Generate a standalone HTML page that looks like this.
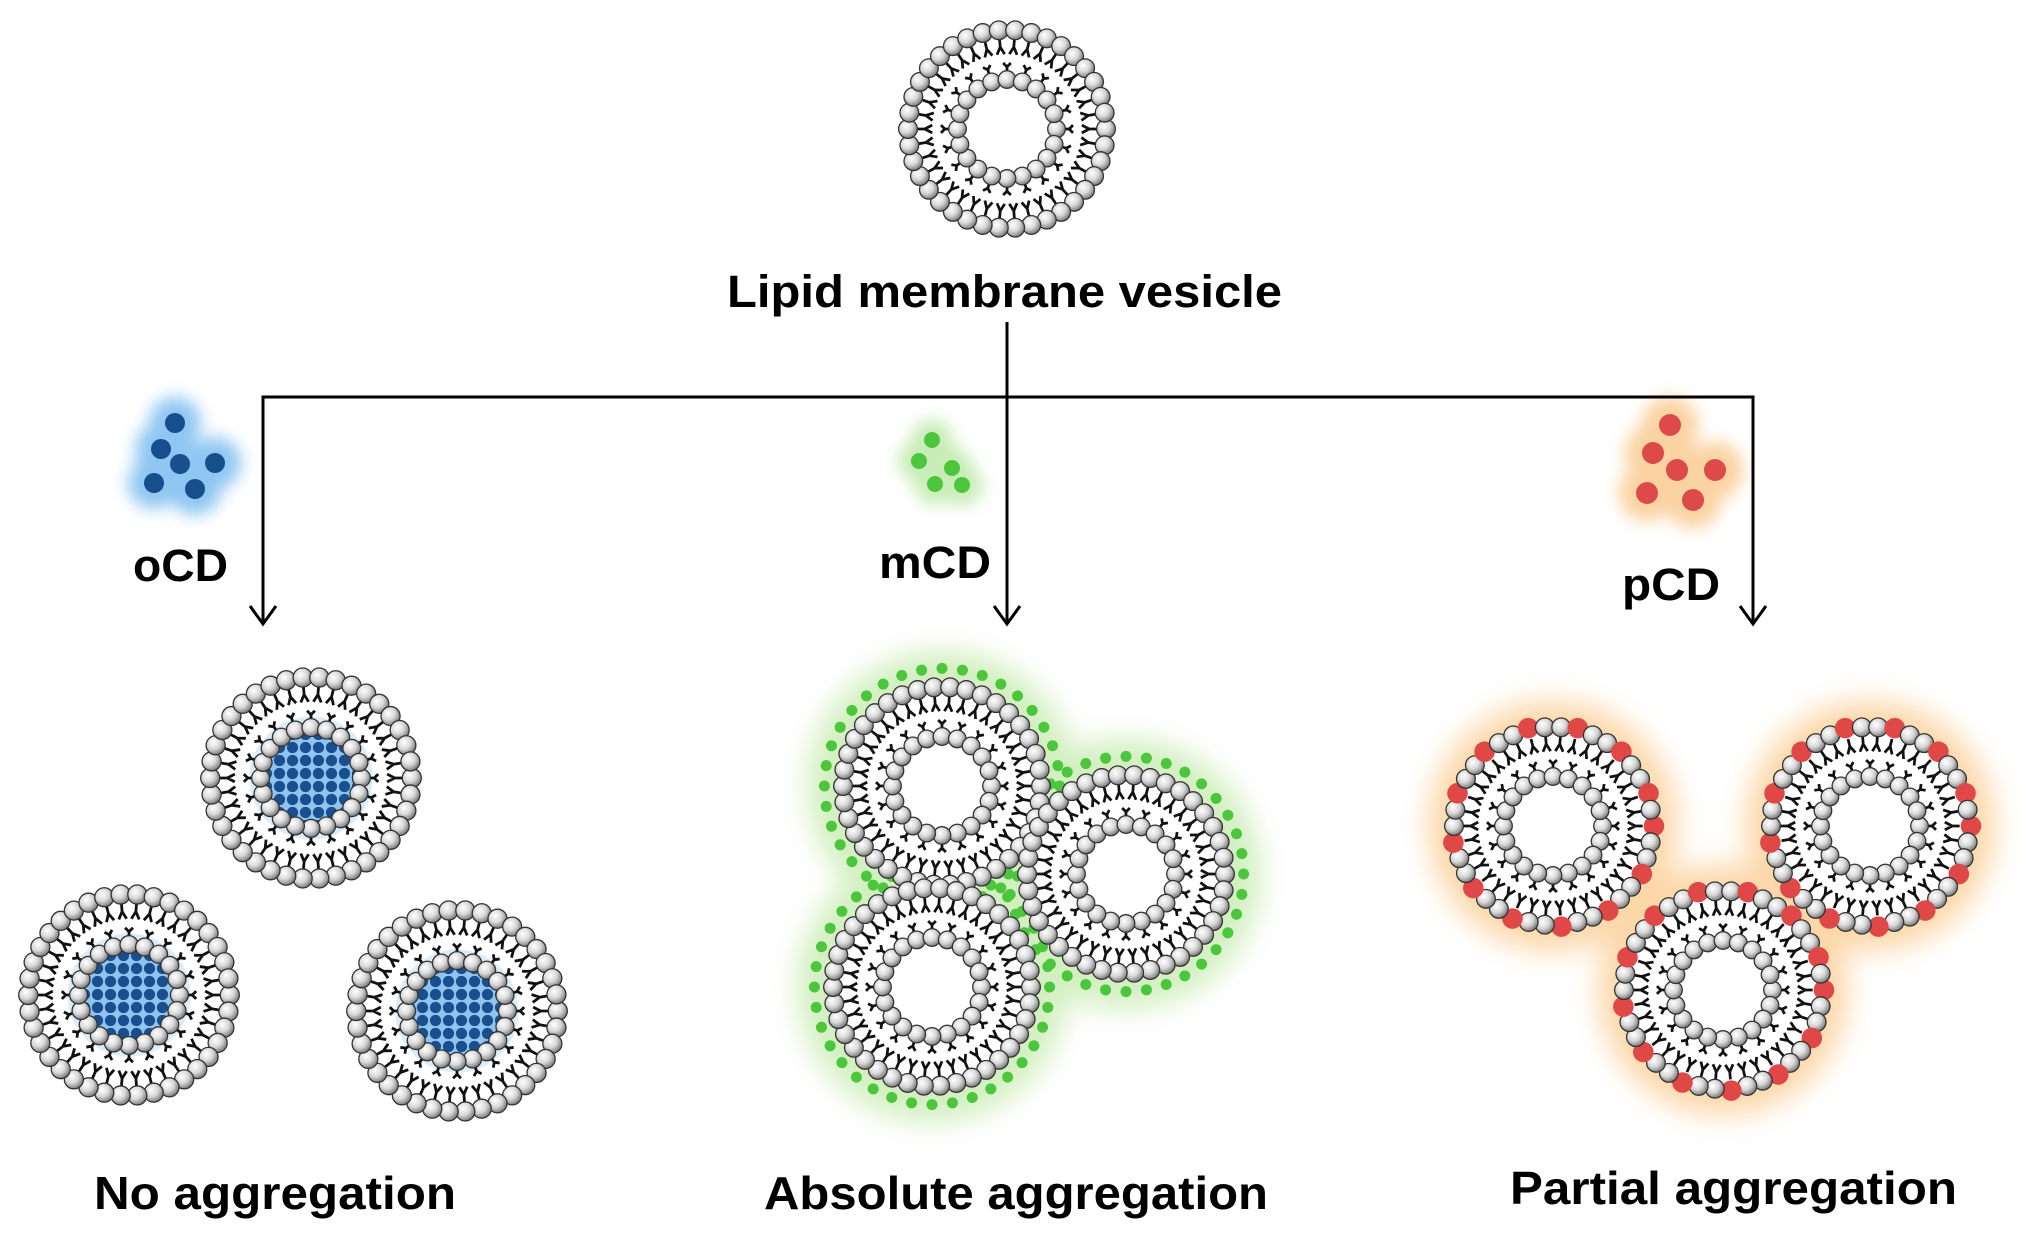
<!DOCTYPE html>
<html><head><meta charset="utf-8">
<style>
html,body{margin:0;padding:0;background:#fff;}
svg{display:block;}
text{font-family:"Liberation Sans",sans-serif;font-weight:bold;fill:#000;}
</style></head>
<body>
<svg id="s" width="2024" height="1241" viewBox="0 0 2024 1241" xmlns="http://www.w3.org/2000/svg">
<defs>
<radialGradient id="hg" cx="0.38" cy="0.35" r="0.7">
<stop offset="0" stop-color="#ffffff"/><stop offset="0.5" stop-color="#d8d8d8"/><stop offset="1" stop-color="#707070"/>
</radialGradient>
<filter id="blur" x="-50%" y="-50%" width="200%" height="200%"><feGaussianBlur stdDeviation="14"/></filter>
<filter id="blur2" x="-50%" y="-50%" width="200%" height="200%"><feGaussianBlur stdDeviation="8"/></filter>
<pattern id="bp" width="13" height="13" patternUnits="userSpaceOnUse">
<rect width="13" height="13" fill="#8fc4ee"/><circle cx="6.5" cy="6.5" r="5.6" fill="#1a4f8f"/>
</pattern>
</defs>
<g id="glow"></g>
<g id="main"></g>
<g stroke="#000" stroke-width="3" fill="none">
<line x1="1007" y1="322" x2="1007" y2="622"/>
<polyline points="263,624 263,397 1753,397 1753,624"/>
<polyline points="250,606 263,624 276,606"/>
<polyline points="994,606 1007,624 1020,606"/>
<polyline points="1740,606 1753,624 1766,606"/>
</g>
<text x="727" y="307" font-size="45" textLength="555" lengthAdjust="spacingAndGlyphs">Lipid membrane vesicle</text>
<text x="133" y="581" font-size="45" textLength="95" lengthAdjust="spacingAndGlyphs">oCD</text>
<text x="879" y="578" font-size="45" textLength="112" lengthAdjust="spacingAndGlyphs">mCD</text>
<text x="1622" y="600" font-size="45" textLength="98" lengthAdjust="spacingAndGlyphs">pCD</text>
<text x="94" y="1209" font-size="46" textLength="362" lengthAdjust="spacingAndGlyphs">No aggregation</text>
<text x="764" y="1209" font-size="46" textLength="504" lengthAdjust="spacingAndGlyphs">Absolute aggregation</text>
<text x="1510" y="1204" font-size="46" textLength="447" lengthAdjust="spacingAndGlyphs">Partial aggregation</text>
</svg>
<script>
var NS="http://www.w3.org/2000/svg";
var main=document.getElementById('main'), glow=document.getElementById('glow');
function el(p,t,a){var e=document.createElementNS(NS,t);for(var k in a)e.setAttribute(k,a[k]);p.appendChild(e);return e;}
function tail(cx,cy,ang,r1,r2,w){
  var c=Math.cos(ang),s=Math.sin(ang);
  var rm=r1+(r2-r1)*0.5;
  var px=-s,py=c;
  var d="M"+(cx+c*r1)+","+(cy+s*r1)+"L"+(cx+c*rm)+","+(cy+s*rm);
  d+="M"+(cx+c*rm)+","+(cy+s*rm)+"L"+(cx+c*r2+px*w)+","+(cy+s*r2+py*w);
  d+="M"+(cx+c*rm)+","+(cy+s*rm)+"L"+(cx+c*r2-px*w)+","+(cy+s*r2-py*w);
  return d;
}
function vesicle(cx,cy,R,o){
  o=o||{};
  var g=el(main,'g',{});
  el(g,'circle',{cx:cx,cy:cy,r:R*0.86,fill:'#fff'});
  if(o.core){el(g,'circle',{cx:cx,cy:cy,r:R*0.55,fill:'#dcedfa'});el(g,'circle',{cx:cx,cy:cy,r:R*0.4,fill:'url(#bp)'});}
  var No=38,Ni=20,ro=R*0.9,hr=R*0.085,ri=R*0.45,hi=R*0.08;
  var d="";
  for(var i=0;i<No;i++){var a=i/No*2*Math.PI;d+=tail(cx,cy,a,ro-hr,R*0.68,R*0.035);}
  for(var i=0;i<Ni;i++){var a=i/Ni*2*Math.PI;d+=tail(cx,cy,a,ri+hi,R*0.6,R*0.035);}
  el(g,'path',{d:d,stroke:'#111','stroke-width':Math.max(2,R*0.025),fill:'none'});
  for(var i=0;i<No;i++){var a=i/No*2*Math.PI;
    var red=o.red&&(i%3==0);
    if(red){el(g,'circle',{cx:cx+Math.cos(a)*ro*1.02,cy:cy+Math.sin(a)*ro*1.02,r:hr*1.1,fill:'#e04848'});}
    else el(g,'circle',{cx:cx+Math.cos(a)*ro,cy:cy+Math.sin(a)*ro,r:hr,fill:'url(#hg)',stroke:'#333','stroke-width':1.3});}
  for(var i=0;i<Ni;i++){var a=i/Ni*2*Math.PI;
    el(g,'circle',{cx:cx+Math.cos(a)*ri,cy:cy+Math.sin(a)*ri,r:hi,fill:'url(#hg)',stroke:'#333','stroke-width':1.3});}
}
function greenDots(cx,cy,R){
  for(var i=0;i<36;i++){var a=i/36*2*Math.PI;el(glow,'circle',{cx:cx+Math.cos(a)*R*1.05,cy:cy+Math.sin(a)*R*1.05,r:5.5,fill:'#4cc63c'});}
}
vesicle(1007,129,110);
function cluster(pts,col,gcol,r){
  var gg=el(glow,'g',{filter:'url(#blur2)'});
  pts.forEach(function(p){el(gg,'circle',{cx:p[0],cy:p[1],r:r*2.6,fill:gcol});});
  pts.forEach(function(p){el(glow,'circle',{cx:p[0],cy:p[1],r:r,fill:col});});
}
cluster([[175,423],[161,449],[180,464],[215,463],[154,483],[195,489]],'#164f8c','#8ec6f2',10);
cluster([[932,440],[919,461],[952,468],[935,484],[962,485]],'#4cc63c','#c8ecb6',8);
cluster([[1670,425],[1653,453],[1677,470],[1715,470],[1647,493],[1693,500]],'#dd4a4a','#fbd3a2',11);
vesicle(311,778,112,{core:1});
vesicle(129,995,112,{core:1});
vesicle(457,1011,112,{core:1});
var mg=el(glow,'g',{filter:'url(#blur)'});
[[942,786],[1126,874],[932,987]].forEach(function(p){el(mg,'circle',{cx:p[0],cy:p[1],r:135,fill:'#d2efbf'});});
greenDots(942,786,112);greenDots(1126,874,112);greenDots(932,987,112);
vesicle(942,786,110);vesicle(1126,874,110);vesicle(932,987,110);
var rg=el(glow,'g',{filter:'url(#blur)'});
[[1553,826],[1870,826],[1723,990]].forEach(function(p){el(rg,'circle',{cx:p[0],cy:p[1],r:125,fill:'#fcd7a8'});});
vesicle(1553,826,110,{red:1});vesicle(1870,826,110,{red:1});vesicle(1723,990,110,{red:1});
</script>
</body></html>
